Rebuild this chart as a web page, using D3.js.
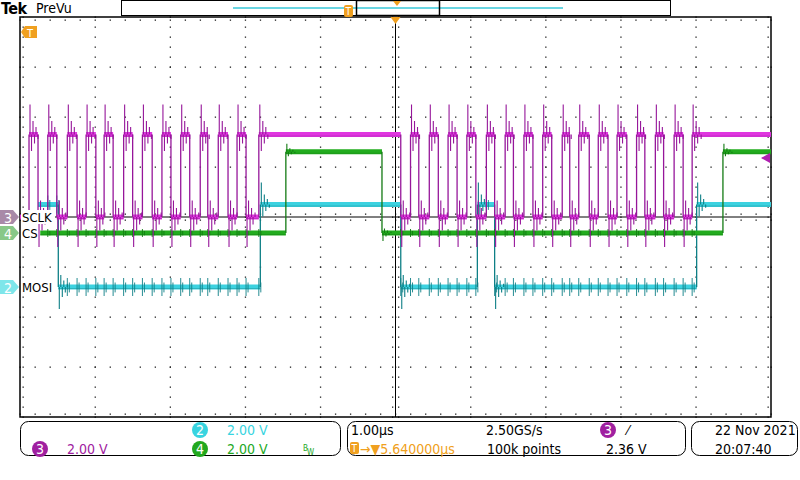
<!DOCTYPE html>
<html><head><meta charset="utf-8">
<script src="https://cdn.jsdelivr.net/npm/d3@7"></script>
<style>body{margin:0;background:#fff}svg{display:block}text{font-family:"Liberation Sans Narrow","DejaVu Sans Condensed",sans-serif}</style>
</head><body><svg id="c" width="800" height="480"></svg>
<script>
// ---- data (time in µs, levels in volts) ----
const sclkEdges=[-4.88,-4.76,-4.63,-4.51,-4.37,-4.24,-4.12,-3.99,-3.88,-3.76,-3.62,-3.50,-3.37,-3.24,-3.11,-2.99,-2.86,-2.74,-2.60,-2.50,-2.36,-2.23,-2.11,-1.99,-1.82,
 0.07,0.20,0.31,0.45,0.57,0.70,0.82,0.95,1.07,1.21,1.32,1.46,1.57,1.71,1.83,1.96,2.08,2.22,2.32,2.44,2.58,2.70,2.83,2.95,3.08,3.21,3.32,3.46,3.57,3.71,3.83,3.95];
const sclkStart={t:-5,level:0}; const sclkHigh=3.3;
const csEdges=[-1.46,-0.18,4.36]; const csStart={t:-4.73,level:0}; const csHigh=3.25;
const mosiEdges=[-4.49,-1.80,0.07,1.09,1.32,4.01]; const mosiStart={t:-4.76,level:1}; const mosiHigh=3.3;
const ringAmp={SCLK:30,CS:8,MOSI:22};      // overshoot height at own edges (px)
const crossAmp={SCLK:5,CS:4,MOSI:9};       // crosstalk spike height at SCLK edges (px)
const channels=[
 {name:"MOSI",num:"2",edges:mosiEdges,start:mosiStart,high:mosiHigh,offsetDiv:-1.4,col:"#3cd2e0",edge:"#0e7f86",tag:"#7ee6ea"},
 {name:"CS",num:"4",edges:csEdges,start:csStart,high:csHigh,offsetDiv:-0.32,col:"#22ac1e",edge:"#137a13",tag:"#88c888"},
 {name:"SCLK",num:"3",edges:sclkEdges,start:sclkStart,high:sclkHigh,offsetDiv:0,col:"#e036e0",edge:"#96169a",tag:"#a88aa8"}
];
const voltsPerDiv=2, tStart=-5, tEnd=5;
const xDivs=d3.range(-5,6), yDivs=d3.range(-4,5);

const svg=d3.select("#c");
const X0=20,X1=771,Y0=17,Y1=417;
const x=d3.scaleLinear().domain([-5,5]).range([X0,X1]);
const yd=d3.scaleLinear().domain([4,-4]).range([Y0,Y1]);
const g=svg.append("g");
const dots=[];
xDivs.forEach(d=>{ if(d>-5&&d<5&&d!==0) for(let k=-20;k<=20;k++) dots.push([x(d),yd(k/5)]); });
yDivs.forEach(d=>{ if(d>-4&&d<4&&d!==0) for(let k=-25;k<=25;k++) dots.push([x(k/5),yd(d)]); });
for(let k=-25;k<=25;k++){ dots.push([x(k/5),yd(0)-3],[x(k/5),yd(0)+3],[x(k/5),Y0+3],[x(k/5),Y1-3]); }
for(let k=-20;k<=20;k++){ dots.push([x(0)-3,yd(k/5)],[x(0)+3,yd(k/5)],[X0+3,yd(k/5)],[X1-3,yd(k/5)]); }
g.selectAll(".d").data(dots).join("rect").attr("x",d=>d[0]-0.5).attr("y",d=>d[1]-0.5).attr("width",1.3).attr("height",1.3).attr("fill","#222");
g.append("rect").attr("x",X0).attr("y",Y0).attr("width",X1-X0).attr("height",Y1-Y0).attr("fill","none").attr("stroke","#000").attr("stroke-width",1.5);
g.append("line").attr("x1",x(0)).attr("x2",x(0)).attr("y1",Y0).attr("y2",Y1).attr("stroke","#000");
g.append("line").attr("x1",X0+35).attr("x2",X1).attr("y1",yd(0)).attr("y2",yd(0)).attr("stroke","#000");

function segsOf(ch){const segs=[]; let lvl=ch.start.level, t0=ch.start.t;
  ch.edges.forEach(e=>{segs.push({a:t0,b:e,l:lvl}); lvl=1-lvl; t0=e;});
  segs.push({a:t0,b:tEnd,l:lvl}); return segs;}
const levelAt=(segs,t)=>{const s=segs.find(s=>t>=s.a&&t<s.b);return s?s.l:null;};

channels.forEach(ch=>{
  const yv=v=>yd(ch.offsetDiv+v/voltsPerDiv);
  const segs=segsOf(ch);
  const cg=svg.append("g");
  cg.selectAll(".p").data(segs).join("line").attr("x1",d=>x(d.a)).attr("x2",d=>x(d.b))
    .attr("y1",d=>yv(d.l*ch.high)).attr("y2",d=>yv(d.l*ch.high)).attr("stroke",ch.col).attr("stroke-width",ch.name==="SCLK"?5:5);
  cg.selectAll(".pc").data(segs).join("line").attr("x1",d=>x(d.a)).attr("x2",d=>x(d.b))
    .attr("y1",d=>yv(d.l*ch.high)+1.5).attr("y2",d=>yv(d.l*ch.high)+1.5).attr("stroke",ch.edge).attr("stroke-width",0.8).attr("opacity",0.45);
  // crosstalk spikes at SCLK edges
  const ct=sclkEdges.filter(t=>t>ch.start.t).map(t=>({t,l:levelAt(segs,t)})).filter(d=>d.l!==null);
  const A=crossAmp[ch.name];
  cg.selectAll(".ct").data(ct).join("path").attr("d",d=>{const b=yv(d.l*ch.high),xx=x(d.t)+(ch.name==="SCLK"?0:0);
    return `M${xx},${b-A}L${xx},${b+A}M${xx+2},${b-A*0.5}L${xx+2},${b+A*0.6}`;})
    .attr("stroke",ch.edge).attr("stroke-width",1).attr("fill","none").attr("opacity",ch.name==="SCLK"?0:0.9);
  const ed=ch.edges.map((e,i)=>({t:e,up:segs[i].l===0}));
  cg.selectAll(".e").data(ed).join("line").attr("x1",d=>x(d.t)).attr("x2",d=>x(d.t))
    .attr("y1",yv(0)).attr("y2",yv(ch.high)).attr("stroke",ch.edge).attr("stroke-width",1.3);
  const a=ringAmp[ch.name];
  cg.selectAll(".r").data(ed).join("path").attr("d",d=>{
    const s=d.up?1:-1, base=yv(d.up?ch.high:0), xx=x(d.t);
    return `M${xx+1},${base}L${xx+1},${base-s*a}M${xx+2.5},${base}L${xx+2.5},${base+s*a*0.55}M${xx+4},${base}L${xx+4},${base-s*a*0.45}M${xx+5.5},${base}L${xx+5.5},${base+s*a*0.3}M${xx+7},${base}L${xx+7},${base-s*a*0.25}M${xx+9},${base}L${xx+9},${base+s*a*0.15}`;
  }).attr("stroke",ch.edge).attr("stroke-width",1.1).attr("fill","none");
  const yy=yv(0);
  svg.append("path").attr("d",`M0,${yy-7}L13,${yy-7}L19,${yy}L13,${yy+7}L0,${yy+7}Z`).attr("fill",ch.tag);
  svg.append("text").attr("x",4).attr("y",yy+5.5).attr("font-size",14).attr("fill","#fff").text(ch.num);
  svg.append("rect").attr("x",21).attr("y",yy-7).attr("width",ch.name.length*8.5).attr("height",14).attr("fill","#fff");
  svg.append("text").attr("x",22).attr("y",yy+5).attr("font-size",13).attr("fill","#000").text(ch.name);
});
svg.append("path").attr("d",`M761,${yd(2.36/voltsPerDiv)}L770,${yd(2.36/voltsPerDiv)-5}L770,${yd(2.36/voltsPerDiv)+5}Z`).attr("fill","#b020b0");

const OR="#f0a020";
svg.append("text").attr("x",1).attr("y",14).attr("font-size",16).attr("font-weight","bold").attr("font-family","Liberation Serif,serif").attr("letter-spacing",-0.5).text("Tek");
svg.append("text").attr("x",36).attr("y",13).attr("font-size",14).text("PreVu");
svg.append("rect").attr("x",121.5).attr("y",0.5).attr("width",549).attr("height",15).attr("fill","#fff").attr("stroke","#000");
svg.append("line").attr("x1",233).attr("x2",563).attr("y1",8).attr("y2",8).attr("stroke","#38c8d8").attr("stroke-width",1.3);
svg.append("rect").attr("x",356.5).attr("y",0.5).attr("width",83).attr("height",15).attr("fill","none").attr("stroke","#000").attr("stroke-width",1.5);
svg.append("rect").attr("x",344).attr("y",5).attr("width",9).attr("height",12).attr("rx",2).attr("fill",OR);
svg.append("text").attr("x",345.5).attr("y",15).attr("font-size",10).attr("fill","#fff").text("T");
svg.append("path").attr("d","M393,1L401,1L397,6Z").attr("fill",OR);
svg.append("path").attr("d",`M${x(0)-5},17L${x(0)+5},17L${x(0)},24Z`).attr("fill",OR);
svg.append("path").attr("d","M21,32L25,26L37,26L37,38L25,38Z").attr("fill",OR);
svg.append("text").attr("x",27).attr("y",36.5).attr("font-size",11).attr("fill","#fff").text("T");

const P=[[20,341],[347,686],[691,798]];
P.forEach(p=>svg.append("rect").attr("x",p[0]+0.5).attr("y",421.5).attr("width",p[1]-p[0]-1).attr("height",34).attr("rx",8).attr("fill","#fff").attr("stroke","#000"));
const circ=(cx,cy,col,n)=>{svg.append("circle").attr("cx",cx).attr("cy",cy).attr("r",8).attr("fill",col);
 svg.append("text").attr("x",cx).attr("y",cy+5).attr("text-anchor","middle").attr("font-size",14).attr("fill","#fff").text(n);};
const T=(tx,ty,s,col,fs)=>svg.append("text").attr("x",tx).attr("y",ty).attr("font-size",fs||14).attr("fill",col||"#000").text(s);
circ(200,430,"#38d4e0","2"); T(227,435,"2.00 V","#38d4e0");
circ(40,449,"#a020a0","3"); T(67,454,"2.00 V","#a020a0");
circ(200,449,"#22a81e","4"); T(227,454,"2.00 V","#22a81e");
T(303,451,"B","#22a81e",8); T(307,455,"W","#22a81e",8);
T(351,435,"1.00µs"); T(486,435,"2.50GS/s"); circ(608,430,"#a020a0","3"); T(627,435,"⁄");
svg.append("rect").attr("x",350).attr("y",442).attr("width",9).attr("height",12).attr("rx",2).attr("fill",OR);
svg.append("text").attr("x",351.5).attr("y",452).attr("font-size",10).attr("fill","#fff").text("T");
T(360,454,"→▼5.640000µs",OR); T(487,454,"100k points"); T(606,454,"2.36 V");
T(715,435,"22 Nov 2021"); T(715,454,"20:07:40");
</script></body></html>
